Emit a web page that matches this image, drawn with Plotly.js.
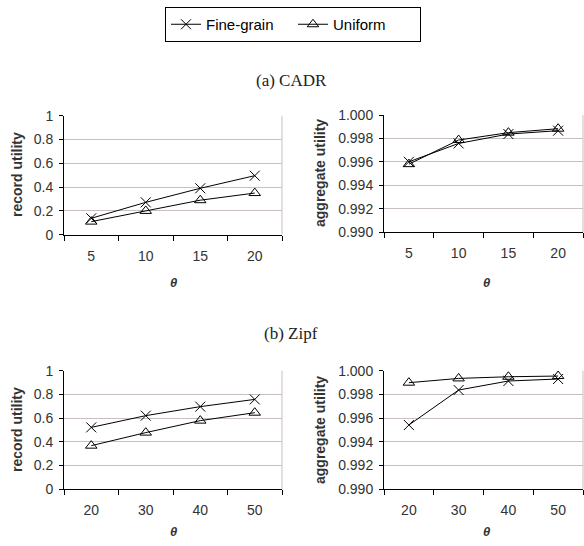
<!DOCTYPE html>
<html><head><meta charset="utf-8">
<script src="https://cdn.plot.ly/plotly-3.0.1.min.js"></script>
<style>html,body{margin:0;padding:0;background:#fff}#chart{width:584px;height:546px}</style>
</head><body><div id="chart"></div>
<script>
const thetaCADR = ["5", "10", "15", "20"];
const thetaZipf = ["20", "30", "40", "50"];
const cadrRecordFine = [0.138, 0.272, 0.39, 0.496];
const cadrRecordUniform = [0.11, 0.20, 0.29, 0.35];
const cadrAggFine = [0.9960, 0.99757, 0.99837, 0.99866];
const cadrAggUniform = [0.9958, 0.99786, 0.99849, 0.99883];
const zipfRecordFine = [0.522, 0.621, 0.697, 0.758];
const zipfRecordUniform = [0.368, 0.478, 0.579, 0.646];
const zipfAggFine = [0.99542, 0.99837, 0.99913, 0.99930];
const zipfAggUniform = [0.99899, 0.99935, 0.99949, 0.99955];
const recordTicks = [0, 0.2, 0.4, 0.6, 0.8, 1];
const recordTickText = ["0", "0.2", "0.4", "0.6", "0.8", "1"];
const aggTicks = [0.990, 0.992, 0.994, 0.996, 0.998, 1.000];
const aggTickText = ["0.990", "0.992", "0.994", "0.996", "0.998", "1.000"];

const W = 584, H = 546;
const FONT = "Liberation Sans, Arial, sans-serif";
const TXT = "#333333";

function tr(x, y, name, sym, xa, ya, show) {
  return {
    x: x, y: y, name: name, type: "scatter", mode: "lines+markers",
    xaxis: xa, yaxis: ya, showlegend: show,
    line: {color: "#000", width: 1},
    marker: {symbol: sym, size: 10, color: "#000", line: {color: "#000", width: 1}}
  };
}

const data = [
  tr(thetaCADR, cadrRecordFine, "Fine-grain", "x-thin-open", "x", "y", true),
  tr(thetaCADR, cadrRecordUniform, "Uniform", "triangle-up-open", "x", "y", true),
  tr(thetaCADR, cadrAggFine, "Fine-grain", "x-thin-open", "x2", "y2", false),
  tr(thetaCADR, cadrAggUniform, "Uniform", "triangle-up-open", "x2", "y2", false),
  tr(thetaZipf, zipfRecordFine, "Fine-grain", "x-thin-open", "x3", "y3", false),
  tr(thetaZipf, zipfRecordUniform, "Uniform", "triangle-up-open", "x3", "y3", false),
  tr(thetaZipf, zipfAggFine, "Fine-grain", "x-thin-open", "x4", "y4", false),
  tr(thetaZipf, zipfAggUniform, "Uniform", "triangle-up-open", "x4", "y4", false)
];

function xax(x0, x1, anchor) {
  return {
    domain: [x0 / W, x1 / W], anchor: anchor, type: "category",
    range: [-0.5, 3.5], tickson: "boundaries", ticks: "outside", ticklen: 5,
    tickcolor: "#000", showline: true, linecolor: "#000", linewidth: 1,
    showgrid: false, zeroline: false, ticklabelstandoff: 8,
    tickfont: {family: FONT, size: 14, color: TXT}, fixedrange: true
  };
}
function yax(top, bottom, anchor, range, tv, tt) {
  return {
    domain: [1 - bottom / H, 1 - top / H], anchor: anchor, range: range,
    tickvals: tv, ticktext: tt, ticks: "outside", ticklen: 4, tickcolor: "#000",
    showline: true, linecolor: "#000", linewidth: 1,
    showgrid: true, gridcolor: "#c8c0c0", gridwidth: 1, zeroline: false,
    ticklabelstandoff: 3,
    tickfont: {family: FONT, size: 14, color: TXT}, fixedrange: true
  };
}

function border(xa, ya) {
  return {type: "line", xref: xa + " domain", yref: ya + " domain",
    x0: 1, x1: 1, y0: 0, y1: 1, line: {color: "#c8c0c0", width: 1}};
}

function ytitle(text, xpx, ypx) {
  return {text: "<b>" + text + "</b>", xref: "paper", yref: "paper",
    x: xpx / W, y: 1 - ypx / H, textangle: -90, showarrow: false,
    xanchor: "center", yanchor: "middle",
    font: {family: FONT, size: 14, color: TXT}};
}
function xtitle(xpx, ypx) {
  return {text: "<b><i>θ</i></b>", xref: "paper", yref: "paper",
    x: xpx / W, y: 1 - ypx / H, showarrow: false,
    xanchor: "center", yanchor: "middle",
    font: {family: FONT, size: 13, color: TXT}};
}
function ptitle(text, ypx) {
  return {text: text, xref: "paper", yref: "paper",
    x: 291 / W, y: 1 - ypx / H, showarrow: false,
    xanchor: "center", yanchor: "middle",
    font: {family: "Liberation Serif, Times New Roman, serif", size: 17, color: "#222"}};
}

const layout = {
  width: W, height: H, margin: {l: 0, r: 0, t: 0, b: 0},
  paper_bgcolor: "#fff", plot_bgcolor: "#fff",
  font: {family: FONT, color: TXT},
  showlegend: true,
  legend: {orientation: "h", x: 293 / W, xanchor: "center", y: 1 - 7 / H, yanchor: "top",
    bordercolor: "#000", borderwidth: 1, bgcolor: "#fff",
    font: {family: FONT, size: 15, color: "#000"}, itemwidth: 30, tracegroupgap: 0,
    entrywidth: 82},
  xaxis: xax(64, 282, "y"),
  yaxis: yax(115.7, 234.7, "x", [0, 1], recordTicks, recordTickText),
  xaxis2: xax(384, 583, "y2"),
  yaxis2: yax(115, 232, "x2", [0.990, 1.000], aggTicks, aggTickText),
  xaxis3: xax(64, 282, "y3"),
  yaxis3: yax(370.7, 489.3, "x3", [0, 1], recordTicks, recordTickText),
  xaxis4: xax(384, 583, "y4"),
  yaxis4: yax(370.7, 489.3, "x4", [0.990, 1.000], aggTicks, aggTickText),
  shapes: [border("x", "y"), border("x2", "y2"), border("x3", "y3"), border("x4", "y4")],
  annotations: [
    ptitle("(a) CADR", 80), ptitle("(b) Zipf", 333),
    ytitle("record utility", 17, 175), ytitle("aggregate utility", 320, 173),
    ytitle("record utility", 17, 430), ytitle("aggregate utility", 320, 430),
    xtitle(173, 282), xtitle(487, 282), xtitle(173, 531), xtitle(487, 531)
  ]
};

Plotly.newPlot("chart", data, layout, {displayModeBar: false, staticPlot: true});
</script></body></html>
